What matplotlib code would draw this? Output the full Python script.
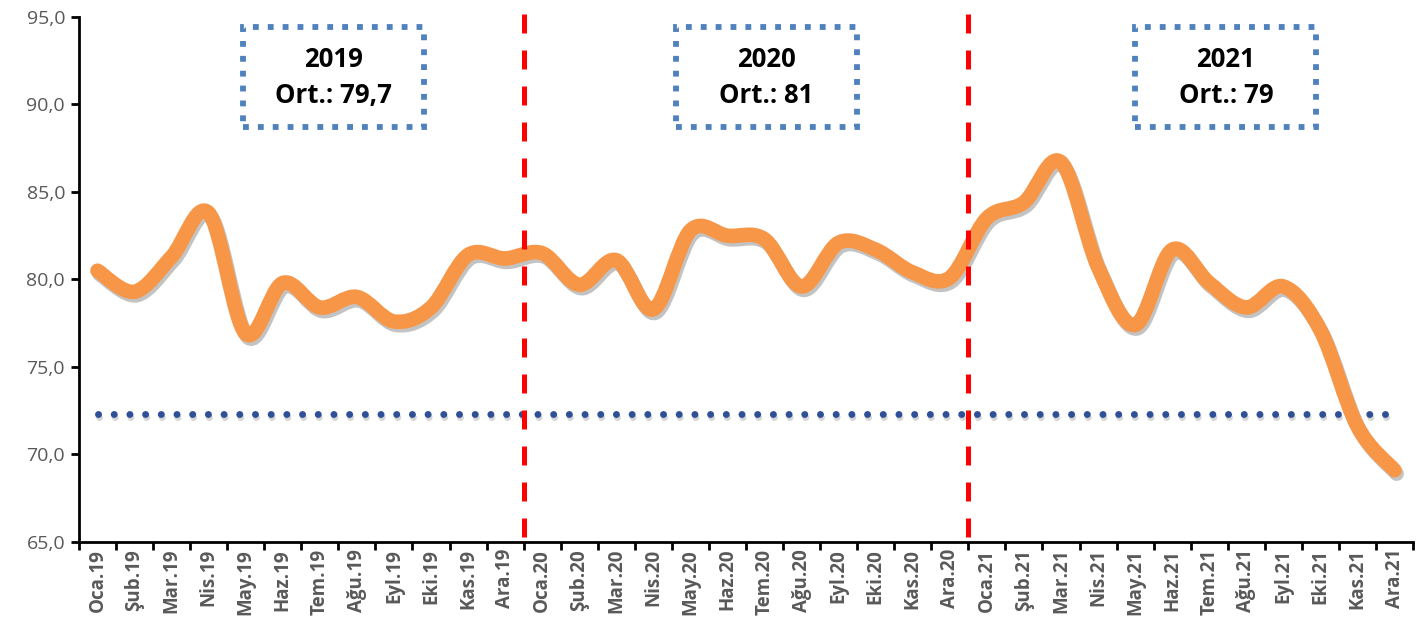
import numpy as np
import matplotlib.pyplot as plt
from matplotlib.path import Path
from matplotlib.patches import PathPatch, Rectangle
import matplotlib.patheffects as pe

plt.rcParams['font.family'] = ['Open Sans', 'DejaVu Sans']

months = ['Oca', 'Şub', 'Mar', 'Nis', 'May', 'Haz', 'Tem', 'Ağu', 'Eyl', 'Eki', 'Kas', 'Ara']
years = ['19', '20', '21']
labels = [m + '.' + y for y in years for m in months]

values = [80.5, 79.3, 81.3, 83.8, 76.9, 79.8, 78.4, 79.0, 77.6, 78.4, 81.4, 81.2,
          81.5, 79.7, 81.1, 78.3, 82.8, 82.5, 82.3, 79.6, 82.1, 81.7, 80.4, 80.1,
          83.5, 84.4, 86.7, 80.7, 77.4, 81.7, 79.8, 78.4, 79.6, 77.1, 71.6, 69.1]
reference = [72.3] * 36

box_texts = ['2019\nOrt.: 79,7', '2020\nOrt.: 81', '2021\nOrt.: 79']
box_centers = [6.37, 18.05, 30.45]

orange = '#f79646'
grey = '#595959'


def smooth_path(x, y):
    # Excel style smoothed line: cubic bezier with catmull-rom control points
    pts = np.column_stack([x, y]).astype(float)
    n = len(pts)
    verts = [pts[0]]
    codes = [Path.MOVETO]
    for i in range(n - 1):
        p0 = pts[i - 1] if i > 0 else pts[i]
        p1 = pts[i]
        p2 = pts[i + 1]
        p3 = pts[i + 2] if i + 2 < n else pts[i + 1]
        c1 = p1 + (p2 - p0) / 6.0
        c2 = p2 - (p3 - p1) / 6.0
        verts += [c1, c2, p2]
        codes += [Path.CURVE4] * 3
    return Path(verts, codes)


fig = plt.figure(figsize=(14.23, 6.27), dpi=100)
ax = fig.add_axes([0.0555, 0.1356, 0.9375, 0.8374])

xs = np.arange(len(values))

ax.plot(xs, reference, color='#2f4f96', lw=5, linestyle=(0, (0.01, 2.25)),
        dash_capstyle='round',
        path_effects=[pe.SimpleLineShadow(offset=(1, -2), shadow_color='#777777', alpha=0.3),
                      pe.Normal()])

line = PathPatch(smooth_path(xs, values), fill=False, edgecolor=orange, lw=10.5,
                 capstyle='round', joinstyle='round', zorder=3,
                 path_effects=[pe.SimpleLineShadow(offset=(1.5, -2.5), shadow_color='#555555', alpha=0.35),
                               pe.Normal()])
ax.add_patch(line)

for xv in [11.5, 23.5]:
    ax.axvline(xv, ymin=0.01, ymax=1.01, color='#ff0000', lw=3.6, dashes=(3.8, 3.4),
               clip_on=False, zorder=4)

for cx, txt in zip(box_centers, box_texts):
    ax.add_patch(Rectangle((cx - 2.44, 88.7), 4.88, 5.7, fill=False, edgecolor='#4f81bd',
                           lw=4.2, linestyle=(0, (1, 1.55)), zorder=5))
    ax.text(cx, 91.55, txt, ha='center', va='center', fontsize=18.5, fontweight='bold',
            linespacing=1.45, color='black', zorder=6)

ax.set_xlim(-0.5, 35.5)
ax.set_ylim(65, 95)
ax.set_yticks(np.arange(65, 96, 5))
ax.set_yticklabels([f'{v:.1f}'.replace('.', ',') for v in np.arange(65, 96, 5)],
                   fontsize=14, color=grey)

ax.set_xticks(np.arange(-0.5, 36, 1))
ax.set_xticklabels([])
ax.set_xticks(xs, minor=True)
ax.set_xticklabels(labels, minor=True, rotation=90, fontsize=13.5, fontweight='bold', color=grey)
ax.tick_params(axis='x', which='minor', length=0, pad=5)
ax.tick_params(axis='x', which='major', length=6, width=2, direction='out')
ax.tick_params(axis='y', length=6, width=2, pad=4)

for s in ['top', 'right']:
    ax.spines[s].set_visible(False)
for s in ['left', 'bottom']:
    ax.spines[s].set_linewidth(2)

fig.savefig('out.png', dpi=100)
